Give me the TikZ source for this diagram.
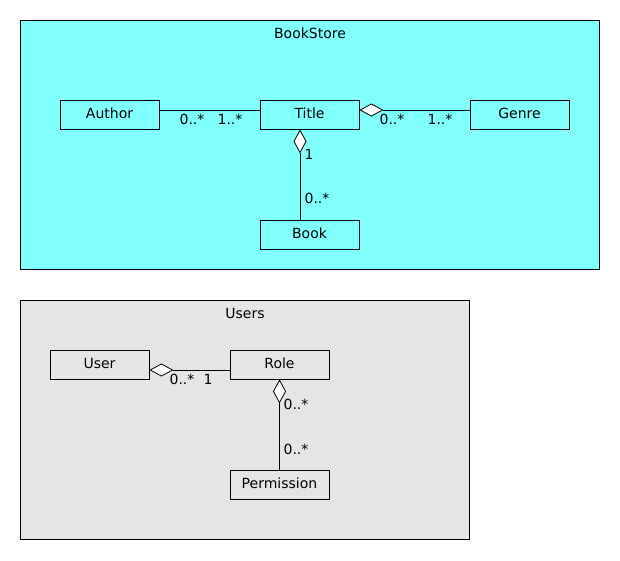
\documentclass[tikz,border=0pt]{standalone}
\usepackage{fontspec}
\setmainfont{DejaVu Sans}
\usepackage{tikz}
\usetikzlibrary{arrows.meta}

\definecolor{pkgcyan}{HTML}{80FFFF}
\definecolor{pkggray}{HTML}{E5E5E5}

\tikzset{
  cls/.style={draw, line width=0.8pt, minimum width=99pt, minimum height=29pt, inner sep=0pt,
    text height=10.2pt, text depth=3pt},
  pkg/.style={draw, line width=0.8pt},
  mult/.style={inner sep=0pt},
  agg/.style={line width=0.8pt, -{Diamond[open, fill=white, length=24pt, width=13pt]}}
}

\begin{document}
\begin{tikzpicture}[x=1pt, y=-1pt, font=\fontsize{14}{16}\selectfont]
    \useasboundingbox (0,0) rectangle (620,560);
    % Drawing packages
    \draw [pkg, fill=pkgcyan] (20,20) rectangle (599,269);
    \node (bookstore) at (310,33) {BookStore};
    \draw [pkg, fill=pkggray] (20,300) rectangle (469,539);
    \node (users) at (245,313) {Users};
    % Drawing BookStore classes
    \node [cls] (author) at (109.5,114.5) {Author};
    \node [cls] (title)  at (309.5,114.5) {Title};
    \node [cls] (genre)  at (519.5,114.5) {Genre};
    \node [cls] (book)   at (309.5,234.5) {Book};
    % Drawing Users classes
    \node [cls] (user)       at (99.5,364.5)  {User};
    \node [cls] (role)       at (279.5,364.5) {Role};
    \node [cls] (permission) at (279.5,484.5) {Permission};
    % Drawing associations
    \draw [line width=0.8pt] ([yshift=4.5pt]author.east) -- ([yshift=4.5pt]title.west);
    \draw [agg] ([yshift=4.5pt]genre.west) -- ([yshift=4.5pt]title.east);
    \draw [agg] ([xshift=-9.5pt]book.north) -- ([xshift=-9.5pt]title.south);
    \draw [agg] ([yshift=-5.5pt]role.west) -- ([yshift=-5.5pt]user.east);
    \draw [agg] (permission.north) -- (role.south);
    % Drawing multiplicities
    \node [mult] (m1) at (192,119) {0..*};
    \node [mult] (m2) at (230,119) {1..*};
    \node [mult] (m3) at (392,119) {0..*};
    \node [mult] (m4) at (440,119) {1..*};
    \node [mult] (m5) at (309,154) {1};
    \node [mult] (m6) at (317,198) {0..*};
    \node [mult] (m7) at (182,379) {0..*};
    \node [mult] (m8) at (208,379) {1};
    \node [mult] (m9) at (296,404) {0..*};
    \node [mult] (m10) at (296,449) {0..*};
  \end{tikzpicture}
\end{document}
